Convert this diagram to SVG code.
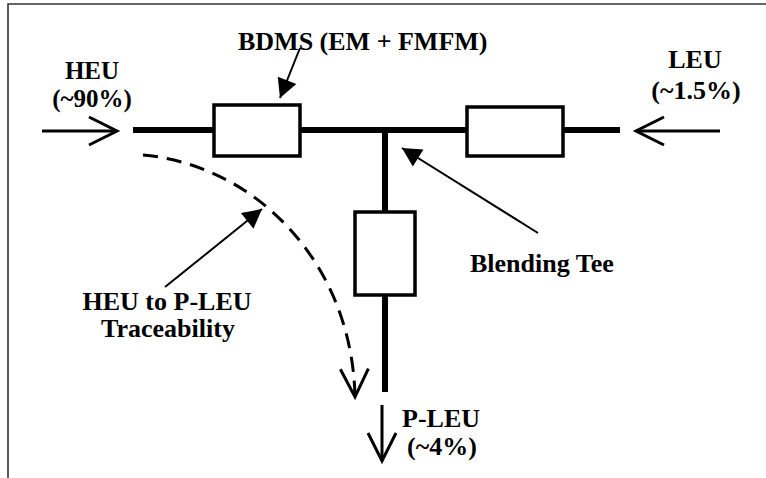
<svg xmlns="http://www.w3.org/2000/svg" width="766" height="478" viewBox="0 0 766 478">
  <style>
    .lbl { font-family: "Liberation Serif", "Times New Roman", serif; font-weight: bold; font-size: 26px; fill: #000; }
    .sm { font-size: 25px; }
    .mid { text-anchor: middle; }
    .pipe { stroke: #000; stroke-width: 6; fill: none; stroke-linecap: butt; }
    .box { fill: #fff; stroke: #000; stroke-width: 3.5; }
    .flow { stroke: #000; stroke-width: 3; fill: none; marker-end: url(#open); }
    .dash { stroke: #000; stroke-width: 3; fill: none; stroke-dasharray: 15 9; marker-end: url(#open); }
    .ptr { stroke: #000; stroke-width: 2; fill: none; marker-end: url(#solid); }
    .frame { stroke: #333; stroke-width: 1.6; fill: none; }
  </style>
  <defs>
    <!-- open chevron head for flow arrows -->
    <marker id="open" markerUnits="userSpaceOnUse" markerWidth="34" markerHeight="34" refX="29" refY="15" orient="auto" overflow="visible">
      <path d="M1,1 L29,15 L1,29" fill="none" stroke="#000" stroke-width="3" stroke-linejoin="miter"/>
    </marker>
    <!-- filled triangle head for callout pointers -->
    <marker id="solid" markerUnits="userSpaceOnUse" markerWidth="22" markerHeight="22" refX="19" refY="10" orient="auto" overflow="visible">
      <path d="M0,0 L19,10 L0,20 z" fill="#000"/>
    </marker>
  </defs>

  <rect width="766" height="478" fill="#fff"/>

  <!-- page frame (top and left edges) -->
  <path class="frame" d="M8,478 L8,4 L766,4"/>

  <g id="connectors">
    <!-- pipework -->
    <path class="pipe" d="M133,130 L214,130"/>
    <path class="pipe" d="M300,130 L467,130"/>
    <path class="pipe" d="M563,130 L620,130"/>
    <path class="pipe" d="M385,127 L385,212"/>
    <path class="pipe" d="M385,295 L385,392"/>
    <!-- feed and product flow arrows -->
    <path class="flow" d="M42,131 L117,131"/>
    <path class="flow" d="M720,131 L636,131"/>
    <path class="flow" d="M382,405 L382,461"/>
    <!-- traceability path -->
    <path class="dash" d="M143,155 C255,165 352,262 355,397"/>
    <!-- callout pointers -->
    <path class="ptr" d="M300,48 L280,98"/>
    <path class="ptr" d="M538,233 L402,148"/>
    <path class="ptr" d="M165,287 L262,209"/>
  </g>

  <g id="bdms-left">
    <rect class="box" x="214" y="105" width="86" height="51"/>
  </g>
  <g id="bdms-right">
    <rect class="box" x="467" y="107" width="96" height="49"/>
  </g>
  <g id="bdms-product">
    <rect class="box" x="355" y="212" width="60" height="83"/>
  </g>

  <g id="label-heu">
    <text class="lbl sm mid" x="92" y="79">HEU</text>
    <text class="lbl sm mid" x="92" y="107">(~90%)</text>
  </g>
  <g id="label-leu">
    <text class="lbl mid" x="695" y="68">LEU</text>
    <text class="lbl mid" x="696" y="99">(~1.5%)</text>
  </g>
  <g id="label-bdms">
    <text class="lbl" x="238" y="50">BDMS (EM + FMFM)</text>
  </g>
  <g id="label-tee">
    <text class="lbl" x="470" y="272">Blending Tee</text>
  </g>
  <g id="label-trace">
    <text class="lbl mid" x="167" y="310">HEU to P-LEU</text>
    <text class="lbl mid" x="168" y="337">Traceability</text>
  </g>
  <g id="label-pleu">
    <text class="lbl" x="402" y="427">P-LEU</text>
    <text class="lbl" x="407" y="455">(~4%)</text>
  </g>
</svg>
